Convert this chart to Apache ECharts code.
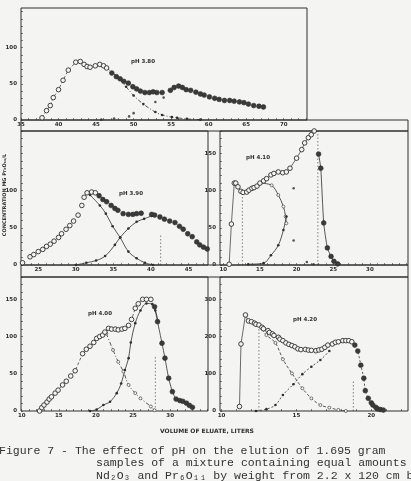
<!DOCTYPE html>
<html>
<head>
<meta charset="utf-8">
<script src="https://cdn.jsdelivr.net/npm/echarts@6/dist/echarts.min.js"></script>
<style>
  html, body { margin: 0; padding: 0; background: #f4f4f2; }
  #chart { width: 411px; height: 481px; }
</style>
</head>
<body>
<div id="chart"></div>
<script>
// tick labels of each panel
var p1XLabels = [35, 40, 45, 50, 55, 60, 65, 70];
var p1YLabels = [0, 50, 100];
var p2XLabels = [25, 30, 35, 40, 45];
var p2YLabels = [0, 50, 100];
var p3XLabels = [10, 15, 20, 25, 30];
var p3YLabels = [0, 50, 100, 150];
var p4XLabels = [10, 15, 20, 25, 30];
var p4YLabels = [0, 50, 100, 150];
var p5XLabels = [10, 15, 20];
var p5YLabels = [0, 100, 200, 300];

// pH 3.80  [liters, mg/L]
var p1Open = [[37.8,3],[38.4,13],[38.9,20],[39.3,31],[40.0,42],[40.6,55],[41.3,69],[42.3,80],[42.9,81],[43.4,77],[43.8,74],[44.2,73],[44.9,75],[45.5,77],[46.0,75],[46.4,72]];
var p1Filled = [[47.1,65],[47.7,60],[48.2,57],[48.7,53.5],[49.3,51],[49.9,46],[50.4,43],[50.9,40],[51.5,38],[52.1,38],[52.6,39],[53.1,38],[53.8,38],[54.9,41],[55.4,45],[56.0,47],[56.5,45],[57.0,42],[57.6,41],[58.3,38.5],[58.9,36],[59.4,34.5],[60.1,32],[60.8,30],[61.4,28.5],[62.1,27],[62.8,27],[63.4,26],[64.1,25],[64.7,24],[65.3,22],[66.0,20],[66.7,19],[67.3,18]];
var p1Pr = [[46.4,72],[47.8,60],[49.0,46],[50.0,34],[51.3,22],[52.9,11],[53.8,7],[55.1,4],[55.8,3],[57.1,1.5],[58.9,0.5]];
var p1Nd = [[45.7,0.5],[47.4,2],[49.4,5],[50.0,9.5],[52.9,25],[54.0,31]];

// pH 3.90
var p2Open = [[22.9,3],[23.9,11],[24.4,14],[25.0,18],[25.6,21],[26.1,25],[26.6,28],[27.1,32],[27.7,37],[28.1,42],[28.7,48],[29.2,53],[29.7,59],[30.3,67],[30.8,80],[31.1,91],[31.5,97],[32.1,98],[32.6,97]];
var p2Filled = [[33.1,93],[33.6,88],[34.1,85],[34.7,80],[35.2,76],[35.6,73.5],[36.3,69],[37.0,68],[37.6,68],[38.1,69],[38.7,69.5],[40.1,68],[40.5,67],[41.2,64.5],[41.8,61.5],[42.5,59],[43.2,57],[43.8,52],[44.3,48],[44.9,42],[45.5,38],[46.1,31],[46.5,27],[47.0,24],[47.5,21.5]];
var p2Pr = [[31.9,94],[33.2,80],[34.0,69],[34.9,52],[35.9,37],[37.0,18],[38.1,9],[39.2,3],[40.3,0]];
var p2Nd = [[30.0,0],[31.4,3],[32.7,6],[33.9,12],[35.2,27],[35.9,37],[37.0,49],[38.1,58],[39.1,62],[40.1,66]];
var p2Cut = [[41.3,0],[41.3,40]];

// pH 4.10
var p3Open = [[10.8,1],[11.1,55],[11.5,110],[11.7,110],[12.0,105],[12.4,99],[12.7,97.5],[13.2,98],[13.5,100.5],[13.9,103],[14.2,104],[14.6,106],[15.0,110],[15.5,113],[15.9,116],[16.5,121],[16.9,123],[17.5,125],[18.1,124],[18.6,125],[19.1,130],[20.0,143.5],[20.7,155],[21.1,164],[21.6,171],[22.0,175],[22.4,180]];
var p3Filled = [[23.0,149],[23.3,130],[23.7,56.5],[24.2,23],[24.7,11.5],[25.1,5],[25.6,1.5]];
var p3Pr = [[15.0,110],[16.6,107],[17.5,94],[18.2,78.5],[18.5,65],[18.6,56]];
var p3Nd = [[13.4,1],[15.5,2.5],[16.5,13],[17.5,26.5],[18.2,47],[18.6,65]];
var p3Dots = [[19.6,103],[19.6,33],[21.4,4],[22.3,1]];
var p3CutA = [[12.6,0],[12.6,98]];
var p3CutB = [[22.9,0],[22.9,180]];

// pH 4.00
var p4Open = [[12.4,0],[12.7,4.5],[13.0,8],[13.4,12],[13.7,16],[14.0,19],[14.5,24],[14.9,28],[15.5,35],[16.0,40],[16.6,47],[17.2,54],[18.2,77],[18.7,83],[19.2,87],[19.7,92],[20.1,97.5],[20.5,100],[20.9,102],[21.2,106],[21.7,111],[22.1,110],[22.6,110],[23.0,109],[23.5,110],[23.9,111],[24.4,115],[24.8,123],[25.3,138],[25.7,144],[26.3,150],[26.8,150],[27.4,150]];
var p4Filled = [[27.9,140],[28.3,120],[28.9,91],[29.3,71],[29.8,44],[30.3,26],[30.8,16],[31.3,14],[31.7,13],[32.2,10.5],[32.6,7.5],[33.0,5]];
var p4Pr = [[21.4,104],[22.3,82],[23.0,66],[23.7,53],[24.4,35],[25.3,24],[26.0,17],[27.4,6],[27.9,1]];
var p4Nd = [[19.2,0],[20.1,2],[21.0,8],[21.9,12.5],[22.8,24],[23.4,37],[23.9,55],[24.4,71],[24.7,92],[25.3,118],[26.0,135],[26.8,144.5],[27.6,143.5],[28.0,135],[28.4,120]];
var p4Cut = [[28.0,0],[28.0,73]];

// pH 4.20
var p5Open = [[11.2,12],[11.3,180],[11.6,258],[11.8,242],[12.0,240],[12.2,236],[12.3,233],[12.5,231],[12.7,225],[12.8,221],[13.1,216],[13.2,211],[13.4,207],[13.5,203],[13.8,198],[13.9,193],[14.1,189],[14.3,183],[14.5,179],[14.7,176],[14.9,172.5],[15.1,167],[15.3,165],[15.6,165.5],[15.8,163.6],[16.0,163],[16.3,162],[16.5,164],[16.7,166],[16.9,171],[17.1,177],[17.4,180],[17.6,184.5],[17.8,186],[18.1,189],[18.3,189],[18.5,189],[18.7,186]];
var p5Filled = [[18.9,177],[19.1,161],[19.3,123],[19.5,88],[19.6,54.5],[19.8,34],[20.0,22],[20.1,16],[20.3,10],[20.4,6],[20.6,4],[20.8,2.5]];
var p5Pr = [[12.5,231],[13.0,204],[13.6,183],[14.1,139],[14.7,101],[15.4,61],[16.0,34],[16.6,16],[17.2,9],[17.8,3],[18.3,0]];
var p5Nd = [[12.3,0],[13.0,5],[13.6,16],[14.1,43],[14.8,72],[15.4,99],[16.0,119],[16.6,137],[17.2,161]];
var p5CutA = [[12.5,0],[12.5,231]];
var p5CutB = [[18.8,0],[18.8,83]];

var ink = '#2f2f2f';
var paper = '#f4f4f2';
var chart = echarts.init(document.getElementById('chart'));

// panel boxes (pixels) and axis ranges
var panels = [
  { left: 21,  top: 8,   width: 286, height: 112, xMin: 35,   xMax: 73.1,  yMax: 155, xl: p1XLabels, yl: p1YLabels, yStep: 10 },
  { left: 21,  top: 131, width: 187, height: 134, xMin: 22.7, xMax: 47.6,  yMax: 180, xl: p2XLabels, yl: p2YLabels, yStep: 10 },
  { left: 220, top: 131, width: 188, height: 134, xMin: 9.55, xMax: 35.2,  yMax: 180, xl: p3XLabels, yl: p3YLabels, yStep: 10 },
  { left: 21,  top: 277, width: 187, height: 134, xMin: 9.9,  xMax: 35.1,  yMax: 180, xl: p4XLabels, yl: p4YLabels, yStep: 10 },
  { left: 220, top: 277, width: 188, height: 134, xMin: 9.9,  xMax: 22.45, yMax: 360, xl: p5XLabels, yl: p5YLabels, yStep: 20 }
];

function steps(a, b, s) {
  var out = [];
  for (var v = Math.ceil(a / s) * s; v <= b; v += s) out.push(v);
  return out;
}

var labelFont = { fontSize: 5.5, fontWeight: 'bold', color: ink, fontFamily: 'DejaVu Sans' };

var grids = [], xAxes = [], yAxes = [];
panels.forEach(function (p, i) {
  grids.push({ left: p.left, top: p.top, width: p.width, height: p.height,
    show: true, borderColor: ink, borderWidth: 1, backgroundColor: 'transparent' });
  xAxes.push({ type: 'value', gridIndex: i, min: p.xMin, max: p.xMax,
    axisLine: { show: false }, splitLine: { show: false },
    axisTick: { show: true, inside: true, length: 2, lineStyle: { color: ink, width: 0.6 },
      customValues: steps(p.xMin, p.xMax, 1) },
    axisLabel: Object.assign({ customValues: p.xl, margin: 2 }, labelFont) });
  yAxes.push({ type: 'value', gridIndex: i, min: 0, max: p.yMax,
    axisLine: { show: false }, splitLine: { show: false },
    axisTick: { show: true, inside: true, length: 2, lineStyle: { color: ink, width: 0.6 },
      customValues: steps(0, p.yMax, p.yStep) },
    axisLabel: Object.assign({ customValues: p.yl, margin: 4 }, labelFont) });
});

// series helpers
function openDots(i, data, lineType) {
  return { type: 'line', xAxisIndex: i, yAxisIndex: i, data: data, z: 4,
    symbol: 'circle', symbolSize: 4.6,
    itemStyle: { color: paper, borderColor: ink, borderWidth: 0.9 },
    lineStyle: lineType ? { color: ink, width: 0.7, type: lineType } : { opacity: 0 } };
}
function heavyDots(i, data, lineType) {
  return { type: 'line', xAxisIndex: i, yAxisIndex: i, data: data, z: 4,
    symbol: 'circle', symbolSize: 4.8, smooth: 0.2,
    itemStyle: { color: '#3a3a3a', borderColor: ink, borderWidth: 0.6 },
    lineStyle: lineType ? { color: ink, width: 0.8, type: lineType } : { opacity: 0 } };
}
function curve(i, data, lineType, hollow) {
  return { type: 'line', xAxisIndex: i, yAxisIndex: i, data: data, z: 3,
    smooth: 0.35, symbol: 'circle', symbolSize: hollow ? 3 : 2.6,
    itemStyle: hollow ? { color: paper, borderColor: ink, borderWidth: 0.6 } : { color: ink },
    lineStyle: { color: ink, width: 0.8, type: lineType } };
}
function cut(i, data) {
  return { type: 'line', xAxisIndex: i, yAxisIndex: i, data: data, symbol: 'none',
    lineStyle: { color: ink, width: 0.6, type: [1.5, 2] } };
}
function dots(i, data) {
  return { type: 'scatter', xAxisIndex: i, yAxisIndex: i, data: data,
    symbol: 'circle', symbolSize: 2.6, itemStyle: { color: ink } };
}

var series = [
  openDots(0, p1Open, [3, 2]), heavyDots(0, p1Filled), curve(0, p1Pr, [4, 2, 1, 2]), dots(0, p1Nd),
  openDots(1, p2Open), heavyDots(1, p2Filled), curve(1, p2Pr, 'solid'), curve(1, p2Nd, 'solid'), cut(1, p2Cut),
  openDots(2, p3Open, 'solid'), heavyDots(2, p3Filled, 'solid'), curve(2, p3Pr, 'solid', true), curve(2, p3Nd, 'solid'),
  dots(2, p3Dots), cut(2, p3CutA), cut(2, p3CutB),
  openDots(3, p4Open, [3, 2]), heavyDots(3, p4Filled, 'solid'), curve(3, p4Pr, [4, 2, 1, 2], true), curve(3, p4Nd, 'solid'), cut(3, p4Cut),
  openDots(4, p5Open, 'solid'), heavyDots(4, p5Filled, [2, 2]), curve(4, p5Pr, [3, 2], true), curve(4, p5Nd, [2, 2]),
  cut(4, p5CutA), cut(4, p5CutB)
];

function note(x, y, text, size) {
  return { type: 'text', x: x, y: y, silent: true,
    style: { text: text, font: 'bold ' + (size || 5.5) + 'px DejaVu Sans', fill: ink,
      textAlign: 'center', textVerticalAlign: 'middle' } };
}
function caption(x, y, text) {
  return { type: 'text', x: x, y: y, silent: true,
    style: { text: text, font: '11.5px "Liberation Mono", "DejaVu Sans Mono", monospace', fill: '#333',
      textAlign: 'left', textVerticalAlign: 'middle' } };
}

var graphics = [
  { type: 'rect', shape: { x: 21, y: 120, width: 387, height: 11 }, silent: true,
    style: { fill: 'none', stroke: ink, lineWidth: 1 } },
  { type: 'rect', shape: { x: 21, y: 265, width: 387, height: 12 }, silent: true,
    style: { fill: 'none', stroke: ink, lineWidth: 1 } },
  note(143, 62, 'pH 3.80'), note(131, 194, 'pH 3.90'), note(258, 158, 'pH 4.10'),
  note(100, 314, 'pH 4.00'), note(305, 320, 'pH 4.20'),
  note(207, 431, 'VOLUME OF ELUATE, LITERS', 6),
  { type: 'text', x: 5, y: 195, rotation: Math.PI / 2, silent: true,
    style: { text: 'CONCENTRATION MG Pr\u2086O\u2081\u2081/L', font: 'bold 5px DejaVu Sans', fill: ink,
      textAlign: 'center', textVerticalAlign: 'middle' } },
  caption(-1, 451, 'Figure 7 - The effect of pH on the elution of 1.695 gram'),
  caption(96, 463, 'samples of a mixture containing equal amounts of'),
  caption(96, 476, 'Nd\u2082O\u2083 and Pr\u2086O\u2081\u2081 by weight from 2.2 x 120 cm be')
];

chart.setOption({
  backgroundColor: paper,
  animation: false,
  grid: grids,
  xAxis: xAxes,
  yAxis: yAxes,
  series: series,
  graphic: graphics
});
</script>
</body>
</html>
